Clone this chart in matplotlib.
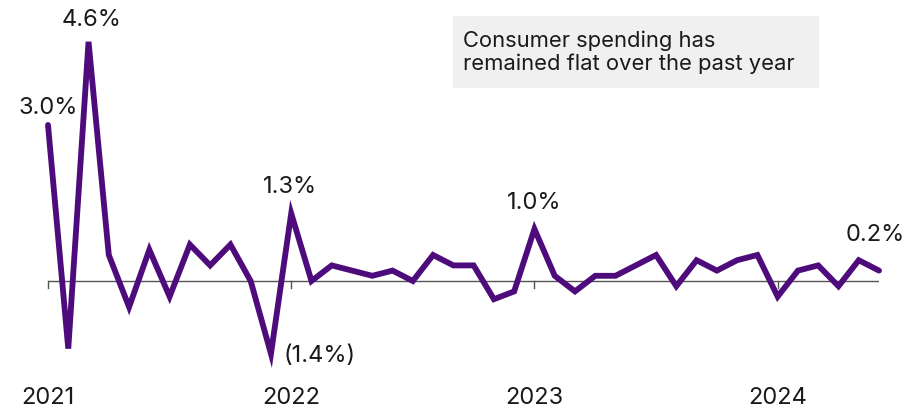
import matplotlib
matplotlib.use("Agg")
import matplotlib.pyplot as plt
import numpy as np

plt.rcParams['font.family'] = ['Inter', 'DejaVu Sans']

# Monthly change in consumer spending, Jan 2021 - Jun 2024 (%)
values = [3.0, -1.3, 4.6, 0.5, -0.5, 0.6, -0.3, 0.7, 0.3, 0.7, 0.0, -1.4,
          1.3, 0.0, 0.3, 0.2, 0.1, 0.2, 0.0, 0.5, 0.3, 0.3, -0.35, -0.2,
          1.0, 0.1, -0.2, 0.1, 0.1, 0.3, 0.5, -0.1, 0.4, 0.2, 0.4, 0.5,
          -0.3, 0.2, 0.3, -0.1, 0.4, 0.2]
year_labels = ["2021", "2022", "2023", "2024"]
year_index = [0, 12, 24, 36]
# (index, label, dx px, dy px, ha, va)
annotations = [
    (0, "3.0%", 0, 6, "center", "bottom"),
    (2, "4.6%", 3, 11, "center", "bottom"),
    (12, "1.3%", -1, 15, "center", "bottom"),
    (11, "(1.4%)", 13, -2, "left", "center"),
    (24, "1.0%", 0, 15, "center", "bottom"),
    (41, "0.2%", -4, 25, "center", "bottom"),
]
note = "Consumer spending has\nremained flat over the past year"

W, H = 919, 418
fig = plt.figure(figsize=(W / 100, H / 100), dpi=100)
left, right = 48, 879
ymin, ymax = -2.0, 5.0
zero_y = 281
ppu = 52
top_px = zero_y - ymax * ppu
bot_px = zero_y - ymin * ppu
ax = fig.add_axes([left / W, 1 - bot_px / H, (right - left) / W, (bot_px - top_px) / H])
ax.set_xlim(0, len(values) - 1)
ax.set_ylim(ymin, ymax)
ax.axis("off")

x = np.arange(len(values))
ax.axhline(0, color="#555555", lw=1.0, zorder=1)
for xi in year_index:
    ax.plot([xi, xi], [0, -7 / ppu], color="#555555", lw=1.0, zorder=1, clip_on=False)
    ax.annotate(year_labels[year_index.index(xi)], (xi, 0), xytext=(0, -106),
                textcoords="offset pixels", ha="center", va="top",
                fontsize=17, color="#1a1a1a")

ax.plot(x, values, color="#4E0B7B", lw=4.2, solid_joinstyle="miter",
        solid_capstyle="round", zorder=3, clip_on=False)

for idx, lab, dx, dy, ha, va in annotations:
    ax.annotate(lab, (idx, values[idx]), xytext=(dx, dy), textcoords="offset pixels",
                ha=ha, va=va, fontsize=17, color="#1a1a1a")

# note box
bx0, by0, bx1, by1 = 453, 16, 819, 88
fig.patches.append(matplotlib.patches.Rectangle((bx0 / W, 1 - by1 / H), (bx1 - bx0) / W,
                                                (by1 - by0) / H, transform=fig.transFigure,
                                                facecolor="#f0f0f0", edgecolor="none", zorder=0))
fig.text(463 / W, 1 - 52 / H, note, ha="left", va="center", fontsize=15.8,
         color="#1a1a1a", linespacing=1.15)

fig.savefig("out.png", dpi=100)
